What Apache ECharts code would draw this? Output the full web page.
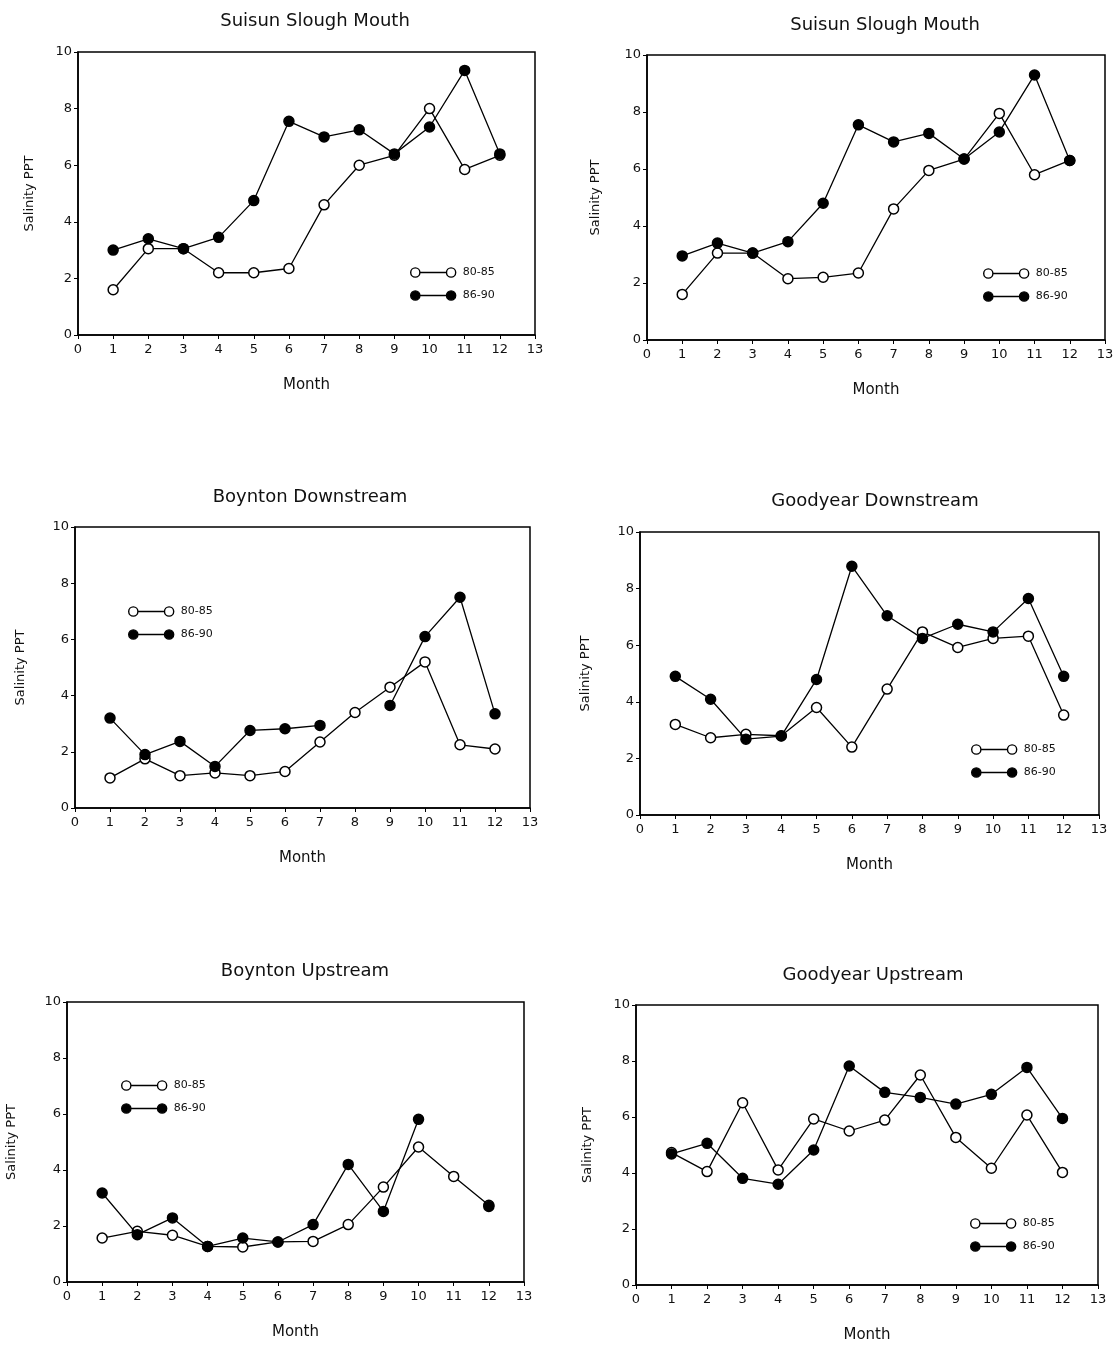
<!DOCTYPE html>
<html>
<head>
<meta charset="utf-8">
<script src="https://cdn.jsdelivr.net/npm/echarts@6/dist/echarts.min.js"></script>
<style>
html,body{margin:0;padding:0;background:#fff;}
#chart{width:1119px;height:1346px;}
</style>
</head>
<body>
<div id="chart"></div>
<script>
// ---- data ----
const months = [1,2,3,4,5,6,7,8,9,10,11,12];
const xTicks = [0,1,2,3,4,5,6,7,8,9,10,11,12,13];
const yTicks = [0,2,4,6,8,10];
const seriesNames = ['80-85','86-90'];
const panelTitles = ['Suisun Slough Mouth','Suisun Slough Mouth','Boynton Downstream','Goodyear Downstream','Boynton Upstream','Goodyear Upstream'];

const suisunL_8085 = [1.6, 3.05, 3.05, 2.2, 2.2, 2.35, 4.6, 6.0, 6.35, 8.0, 5.85, 6.35];
const suisunL_8690 = [3.0, 3.4, 3.05, 3.45, 4.75, 7.55, 7.0, 7.25, 6.4, 7.35, 9.35, 6.4];
const suisunR_8085 = [1.6, 3.05, 3.05, 2.15, 2.2, 2.35, 4.6, 5.95, 6.35, 7.95, 5.8, 6.3];
const suisunR_8690 = [2.95, 3.4, 3.05, 3.45, 4.8, 7.55, 6.95, 7.25, 6.35, 7.3, 9.3, 6.3];
const boyntonDown_8085 = [1.07, 1.75, 1.15, 1.25, 1.15, 1.3, 2.35, 3.4, 4.3, 5.2, 2.25, 2.1];
const boyntonDown_8690 = [3.2, 1.9, 2.37, 1.48, 2.76, 2.82, 2.94, null, 3.65, 6.1, 7.5, 3.35];
const goodyearDown_8085 = [3.2, 2.73, 2.85, 2.8, 3.8, 2.4, 4.45, 6.47, 5.92, 6.24, 6.32, 3.53];
const goodyearDown_8690 = [4.9, 4.09, 2.68, 2.79, 4.79, 8.79, 7.04, 6.24, 6.74, 6.47, 7.65, 4.9];
const boyntonUp_8085 = [1.57, 1.81, 1.67, 1.27, 1.25, 1.43, 1.45, 2.05, 3.39, 4.82, 3.77, 2.74];
const boyntonUp_8690 = [3.18, 1.69, 2.29, 1.27, 1.57, 1.43, 2.05, 4.2, 2.52, 5.81, null, 2.7];
const goodyearUp_8085 = [4.73, 4.05, 6.51, 4.11, 5.93, 5.5, 5.89, 7.5, 5.27, 4.17, 6.07, 4.02];
const goodyearUp_8690 = [4.68, 5.06, 3.81, 3.6, 4.82, 7.82, 6.88, 6.7, 6.46, 6.81, 7.77, 5.95];

const panelData = [
  [suisunL_8085, suisunL_8690],
  [suisunR_8085, suisunR_8690],
  [boyntonDown_8085, boyntonDown_8690],
  [goodyearDown_8085, goodyearDown_8690],
  [boyntonUp_8085, boyntonUp_8690],
  [goodyearUp_8085, goodyearUp_8690]
];

// ---- layout ----
const grids = [
  {left:78, top:52, width:457, height:283},
  {left:647, top:55, width:458, height:285},
  {left:75, top:527, width:455, height:281},
  {left:640, top:532, width:459, height:283},
  {left:67, top:1002, width:457, height:280},
  {left:636, top:1005, width:462, height:280}
];
const titlePos = [[310,7],[880,11],[305,483],[870,487],[300,957],[868,961]];
const legendPos = [[405,262],[978,263],[123,601],[966,739],[116,1075],[965,1213]];
const yNameGap = [42,45,48,48,49,42];

const FONT = 'DejaVu Sans';
const iconPath = 'path://M1,5.5 a4.5,4.5 0 1,0 9,0 a4.5,4.5 0 1,0 -9,0 Z M36,5.5 a4.5,4.5 0 1,0 9,0 a4.5,4.5 0 1,0 -9,0 Z M10,5.45 L36,5.45 L36,5.55 L10,5.55 Z';

const option = {
  backgroundColor:'#fff',
  animation:false,
  title: panelTitles.map((t,i)=>({
    text:t, left:titlePos[i][0], top:titlePos[i][1], textAlign:'center',
    textStyle:{fontFamily:FONT, fontSize:18, fontWeight:'normal', color:'#111'}
  })),
  legend: legendPos.map((p,i)=>({
    left:p[0], top:p[1], orient:'vertical', itemWidth:45, itemHeight:10, itemGap:12,
    selectedMode:false,
    textStyle:{fontFamily:FONT, fontSize:11, color:'#111', padding:[0,0,0,2]},
    data:[
      {name:seriesNames[0], icon:iconPath, itemStyle:{color:'#fff', borderColor:'#000', borderWidth:1.4}},
      {name:seriesNames[1], icon:iconPath, itemStyle:{color:'#000', borderColor:'#000', borderWidth:1.4}}
    ]
  })),
  grid: grids.map(g=>Object.assign({show:true, borderColor:'#000', borderWidth:1.5, backgroundColor:'transparent'}, g)),
  xAxis: grids.map((g,i)=>({
    type:'value', gridIndex:i, min:xTicks[0], max:xTicks[xTicks.length-1], interval:1,
    name:'Month', nameLocation:'middle', nameGap:43,
    nameTextStyle:{fontFamily:FONT, fontSize:15, color:'#111'},
    axisLine:{show:true, lineStyle:{color:'#000', width:1.5}},
    axisTick:{show:true, length:4, lineStyle:{color:'#000'}},
    axisLabel:{fontFamily:FONT, fontSize:13, color:'#111', margin:8},
    splitLine:{show:false}
  })),
  yAxis: grids.map((g,i)=>({
    type:'value', gridIndex:i, min:yTicks[0], max:yTicks[yTicks.length-1], interval:2,
    name:'Salinity PPT', nameLocation:'middle', nameGap:yNameGap[i],
    nameTextStyle:{fontFamily:FONT, fontSize:13, color:'#111'},
    axisLine:{show:true, lineStyle:{color:'#000', width:1.5}},
    axisTick:{show:true, length:4, lineStyle:{color:'#000'}},
    axisLabel:{fontFamily:FONT, fontSize:13, color:'#111', margin:6},
    splitLine:{show:false}
  })),
  series: []
};

panelData.forEach((pair,i)=>{
  pair.forEach((vals,k)=>{
    option.series.push({
      type:'line', name:seriesNames[k], xAxisIndex:i, yAxisIndex:i,
      data: months.map((m,j)=>[m, vals[j]]),
      connectNulls:false,
      symbol:'circle', symbolSize:10,
      lineStyle:{color:'#000', width:1.3},
      itemStyle:{color: k===0 ? '#fff' : '#000', borderColor:'#000', borderWidth:1.5},
      z: k===0 ? 2 : 3
    });
  });
});

const chart = echarts.init(document.getElementById('chart'), null, {renderer:'canvas'});
chart.setOption(option);
</script>
</body>
</html>
